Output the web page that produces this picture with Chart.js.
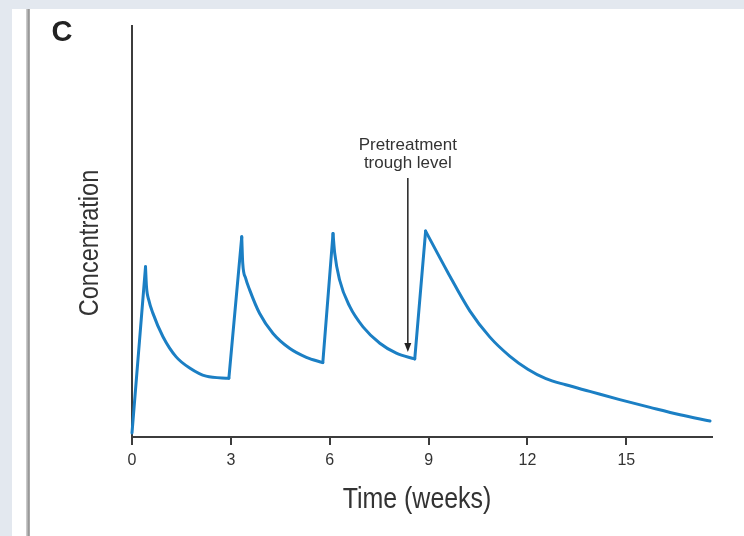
<!DOCTYPE html>
<html>
<head>
<meta charset="utf-8">
<script src="https://cdn.jsdelivr.net/npm/chart.js@4/dist/chart.umd.min.js"></script>
<style>
  html, body { margin: 0; padding: 0; background: #ffffff; }
  #page { position: relative; width: 744px; height: 536px; overflow: hidden; background: #ffffff; }
  #band-top { position: absolute; left: 0; top: 0; width: 744px; height: 9px; background: #e3e8ef; }
  #band-left { position: absolute; left: 0; top: 0; width: 12px; height: 536px; background: #e3e8ef; }
  #rule { position: absolute; left: 26px; top: 9px; width: 4px; height: 527px;
          background: linear-gradient(to right, #d6d6d6, #b0b0b0 40%, #8c8c8c 75%, #c8c8c8); }
  #chart { position: absolute; left: 0; top: 0; }
</style>
</head>
<body>
<div id="page">
  <div id="band-top"></div>
  <div id="band-left"></div>
  <div id="rule"></div>
  <canvas id="chart" width="744" height="536"></canvas>
</div>
<script>
// time in weeks, concentration in arbitrary units (axis unlabelled)
const weeks = [0,
  0.41, 0.44, 0.51, 0.63, 0.94, 1.34, 1.75, 2.25, 2.94,
  3.33, 3.36, 3.45, 3.57, 3.87, 4.28, 4.78, 5.29, 5.79,
  6.10, 6.15, 6.30, 6.61, 7.01, 7.52, 8.02, 8.58,
  8.91, 9.58, 10.25, 10.86, 11.46, 12.01, 12.56, 13.16, 13.89, 14.80, 15.72, 16.63, 17.54];
const concentration = [1,
  41.4, 36.5, 33.3, 30.2, 24.4, 19.5, 16.8, 14.8, 14.3,
  48.7, 42.3, 38.6, 35.8, 30.1, 25.2, 21.6, 19.4, 18.1,
  49.5, 44.8, 38.2, 31.7, 26.8, 22.8, 20.4, 19.0,
  50.1, 40.1, 30.7, 24.3, 19.7, 16.5, 14.2, 12.7, 11.1, 9.1, 7.2, 5.4, 3.9];
// index of each dose peak in the arrays above
const peakIndex = [1, 10, 19, 27];
const xTicks = [0, 3, 6, 9, 12, 15];

const xTitle = "Time (weeks)";
const yTitle = "Concentration";
const annotationLines = ["Pretreatment", "trough level"];
const arrowWeek = 8.37;
const arrowTop = 63.0;
const arrowTip = 20.7;

const font = "'Liberation Sans', Arial, sans-serif";
const ink = "#333333";
const axisInk = "#3c3c3c";
const lineBlue = "#1b7fc4";

function slice(from, to) {
  const out = [];
  for (let i = from; i <= to; i++) out.push({ x: weeks[i], y: concentration[i] });
  return out;
}

// rises after each dose are straight, decays are smooth
const datasets = [];
peakIndex.forEach((p, k) => {
  const end = k + 1 < peakIndex.length ? peakIndex[k + 1] - 1 : weeks.length - 1;
  const start = k === 0 ? 0 : p - 1;
  datasets.push({ data: slice(start, p), tension: 0 });
  datasets.push({ data: slice(p, end), cubicInterpolationMode: "monotone" });
});
datasets.forEach((d) => {
  Object.assign(d, {
    borderColor: lineBlue,
    borderWidth: 3,
    borderCapStyle: "round",
    borderJoinStyle: "round",
    pointRadius: 0,
    fill: false,
    clip: false,
  });
});

// narrow-looking text: plain sans squeezed sideways
function squeezed(ctx, text, x, y, size, squeeze, angle) {
  ctx.save();
  ctx.translate(x, y);
  ctx.rotate(angle);
  ctx.scale(squeeze, 1);
  ctx.font = size + "px " + font;
  ctx.fillText(text, 0, 0);
  ctx.restore();
}

const extras = {
  id: "extras",
  afterDraw(chart) {
    const { ctx, scales } = chart;
    const x = scales.x;
    const y = scales.y;
    ctx.save();
    ctx.textAlign = "center";
    ctx.textBaseline = "middle";

    // panel letter
    ctx.fillStyle = "#222222";
    ctx.font = "bold 29px " + font;
    ctx.fillText("C", 62, 33);

    // axis titles
    ctx.fillStyle = ink;
    squeezed(ctx, yTitle, 90, 243, 28, 0.84, -Math.PI / 2);
    squeezed(ctx, xTitle, 417, 500, 29, 0.86, 0);

    // trough annotation
    const ax = x.getPixelForValue(arrowWeek);
    const top = y.getPixelForValue(arrowTop);
    const tip = y.getPixelForValue(arrowTip);
    ctx.font = "17px " + font;
    ctx.fillText(annotationLines[0], ax, top - 33);
    ctx.fillText(annotationLines[1], ax, top - 15);

    ctx.strokeStyle = "#222222";
    ctx.lineWidth = 1.5;
    ctx.beginPath();
    ctx.moveTo(ax, top);
    ctx.lineTo(ax, tip - 6);
    ctx.stroke();
    ctx.fillStyle = "#222222";
    ctx.beginPath();
    ctx.moveTo(ax, tip);
    ctx.lineTo(ax - 3.5, tip - 9);
    ctx.lineTo(ax + 3.5, tip - 9);
    ctx.closePath();
    ctx.fill();

    ctx.restore();
  },
};

new Chart(document.getElementById("chart"), {
  type: "line",
  data: { datasets },
  options: {
    responsive: false,
    animation: false,
    layout: { padding: { left: 132, top: 26, right: 32, bottom: 0 } },
    plugins: { legend: { display: false }, tooltip: { enabled: false } },
    scales: {
      x: {
        type: "linear",
        min: 0,
        max: 17.6,
        afterFit(scale) { scale.height = 99; },
        afterBuildTicks(scale) { scale.ticks = xTicks.map((v) => ({ value: v })); },
        grid: { display: true, drawOnChartArea: false, drawTicks: true, tickLength: 8, color: axisInk, lineWidth: 2 },
        border: { display: true, color: axisInk, width: 2 },
        ticks: { color: ink, padding: 6, font: { family: font, size: 16 } },
      },
      y: {
        type: "linear",
        min: 0,
        max: 100,
        afterFit(scale) { scale.width = 0; },
        grid: { display: false },
        border: { display: true, color: axisInk, width: 2 },
        ticks: { display: false },
      },
    },
  },
  plugins: [extras],
});
</script>
</body>
</html>
